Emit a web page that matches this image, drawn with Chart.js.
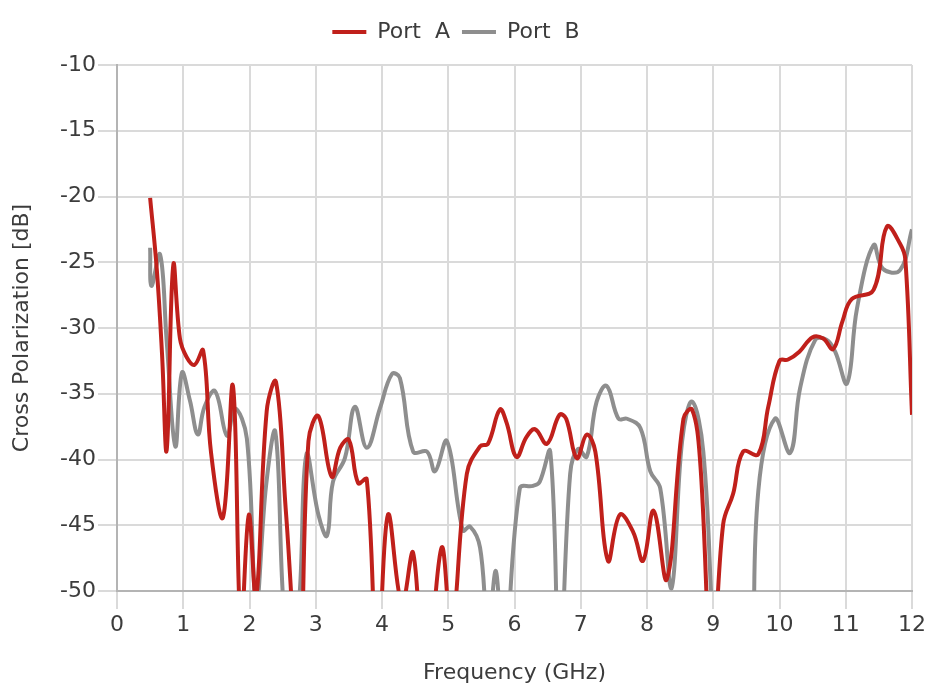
<!DOCTYPE html>
<html>
<head>
<meta charset="utf-8">
<script src="https://cdn.jsdelivr.net/npm/chart.js@4/dist/chart.umd.min.js"></script>
<style>
  html, body { margin: 0; padding: 0; background: #fff; }
  canvas { display: block; }
</style>
</head>
<body>
<canvas id="chart" width="930" height="696"></canvas>
<script>
// Port A
const freqA = [0.5, 0.6, 0.68, 0.75, 0.85, 0.95, 1.05, 1.17, 1.3, 1.42, 1.6, 1.75, 1.87, 1.99, 2.1, 2.26, 2.4, 2.55, 2.75, 2.89, 3.04, 3.24, 3.37, 3.5, 3.64, 3.77, 3.93, 4.09, 4.3, 4.47, 4.65, 4.9, 5.05, 5.28, 5.48, 5.6, 5.78, 5.88, 6.03, 6.18, 6.31, 6.49, 6.68, 6.78, 6.94, 7.09, 7.22, 7.41, 7.59, 7.79, 7.94, 8.1, 8.3, 8.55, 8.68, 8.8, 8.98, 9.15, 9.3, 9.45, 9.68, 9.83, 10.0, 10.13, 10.3, 10.5, 10.66, 10.81, 10.95, 11.09, 11.42, 11.62, 11.82, 11.9, 12.0];
const dbA = [-20.1, -25.5, -32, -39.3, -25.2, -30.8, -32.2, -32.8, -31.7, -39.5, -44.4, -34.4, -53, -44.2, -50.5, -36.3, -34.1, -44, -57, -38.6, -36.7, -41.3, -39.1, -38.5, -41.8, -41.5, -56, -44.2, -51, -47.1, -58, -46.7, -53, -41.1, -39, -38.8, -36.2, -37.2, -39.8, -38.3, -37.7, -38.8, -36.6, -36.9, -39.9, -38.1, -39.4, -47.7, -44.2, -45.5, -47.7, -43.9, -49.1, -36.9, -36.2, -40, -56, -44.9, -42.6, -39.4, -39.6, -36, -32.5, -32.4, -31.8, -30.7, -30.8, -31.6, -29.5, -27.8, -27.1, -22.3, -23.6, -24.8, -36.6];

// Port B
const freqB = [0.5, 0.52, 0.65, 0.75, 0.88, 0.98, 1.1, 1.22, 1.32, 1.48, 1.66, 1.78, 1.96, 2.1, 2.25, 2.39, 2.5, 2.62, 2.76, 2.86, 3.04, 3.17, 3.26, 3.44, 3.59, 3.77, 3.97, 4.15, 4.27, 4.47, 4.68, 4.8, 4.98, 5.22, 5.33, 5.48, 5.6, 5.72, 5.84, 6.08, 6.28, 6.38, 6.54, 6.68, 6.84, 6.96, 7.09, 7.24, 7.39, 7.57, 7.7, 7.9, 8.05, 8.2, 8.37, 8.53, 8.68, 8.85, 9.05, 9.3, 9.55, 9.68, 9.93, 10.16, 10.31, 10.54, 10.71, 10.84, 11.02, 11.17, 11.42, 11.56, 11.82, 12.0];
const dbB = [-23.9, -26.8, -24.4, -31, -39, -33.4, -35.5, -38.1, -36, -34.8, -38.2, -36.1, -38.4, -51, -42, -37.9, -50, -58, -50, -39.6, -44.2, -45.8, -41.7, -39.9, -36, -39.1, -36.1, -33.5, -33.8, -39.4, -39.4, -40.9, -38.6, -45.4, -45.1, -46.7, -53, -48.5, -56, -42.2, -42, -41.7, -39.4, -56, -41.1, -39.2, -39.8, -35.6, -34.4, -36.9, -36.9, -37.6, -40.9, -42.2, -49.8, -38.6, -35.6, -39.4, -56, -62, -58, -42.4, -36.9, -39.5, -34.6, -30.9, -30.9, -31.8, -34.2, -28.5, -23.7, -25.5, -25.6, -22.5];

const seriesNames = ['Port  A', 'Port  B'];
const xTicks = [0, 12];
const yTicks = [-50, -10];

const FONT = '"DejaVu Sans", sans-serif';
const TEXT = '#3c3c3c';

function toPoints(xs, ys) {
    return xs.map((x, i) => ({ x: x, y: ys[i] }));
}

// extra room under the legend
const legendGap = {
    id: 'legendGap',
    beforeInit(chart) {
        const fit = chart.legend.fit;
        chart.legend.fit = function() {
            fit.call(this);
            this.height += 12;
        };
    }
};

new Chart(document.getElementById('chart'), {
    type: 'line',
    data: {
        datasets: [
            {
                label: seriesNames[0],
                data: toPoints(freqA, dbA),
                borderColor: '#c0201b',
                backgroundColor: '#c0201b',
                borderWidth: 4,
                pointRadius: 0,
                tension: 0.4,
                clip: 0
            },
            {
                label: seriesNames[1],
                data: toPoints(freqB, dbB),
                borderColor: '#8e8e8e',
                backgroundColor: '#8e8e8e',
                borderWidth: 4,
                pointRadius: 0,
                tension: 0.4,
                clip: 0
            }
        ]
    },
    options: {
        responsive: false,
        animation: false,
        layout: { padding: { left: 0, right: 18, top: 9, bottom: 0 } },
        plugins: {
            legend: {
                position: 'top',
                labels: {
                    boxWidth: 34,
                    boxHeight: 4,
                    padding: 12,
                    color: TEXT,
                    font: { family: FONT, size: 22 },
                    generateLabels: chart =>
                        Chart.defaults.plugins.legend.labels.generateLabels(chart)
                            .map(l => ({ ...l, lineWidth: 0 }))
                }
            },
            tooltip: { enabled: false }
        },
        scales: {
            x: {
                type: 'linear',
                min: xTicks[0],
                max: xTicks[1],
                ticks: { stepSize: 1, color: TEXT, font: { family: FONT, size: 22 }, padding: 3 },
                grid: { color: '#dadada', lineWidth: 2, tickLength: 18 },
                border: { color: '#b4b4b4', width: 2 },
                title: {
                    display: true,
                    text: 'Frequency (GHz)',
                    color: TEXT,
                    font: { family: FONT, size: 22 },
                    padding: { top: 0, bottom: 10 }
                },
                afterFit: s => { s.height = 696 - 591; }
            },
            y: {
                min: yTicks[0],
                max: yTicks[1],
                ticks: { stepSize: 5, color: TEXT, font: { family: FONT, size: 22 }, padding: 2 },
                grid: { color: '#dadada', lineWidth: 2, tickLength: 19 },
                border: { color: '#b4b4b4', width: 2 },
                title: {
                    display: true,
                    text: 'Cross Polarization [dB]',
                    color: TEXT,
                    font: { family: FONT, size: 22 },
                    padding: { top: 9, bottom: 0 }
                },
                afterFit: s => { s.width = 117; }
            }
        }
    },
    plugins: [legendGap]
});
</script>
</body>
</html>
